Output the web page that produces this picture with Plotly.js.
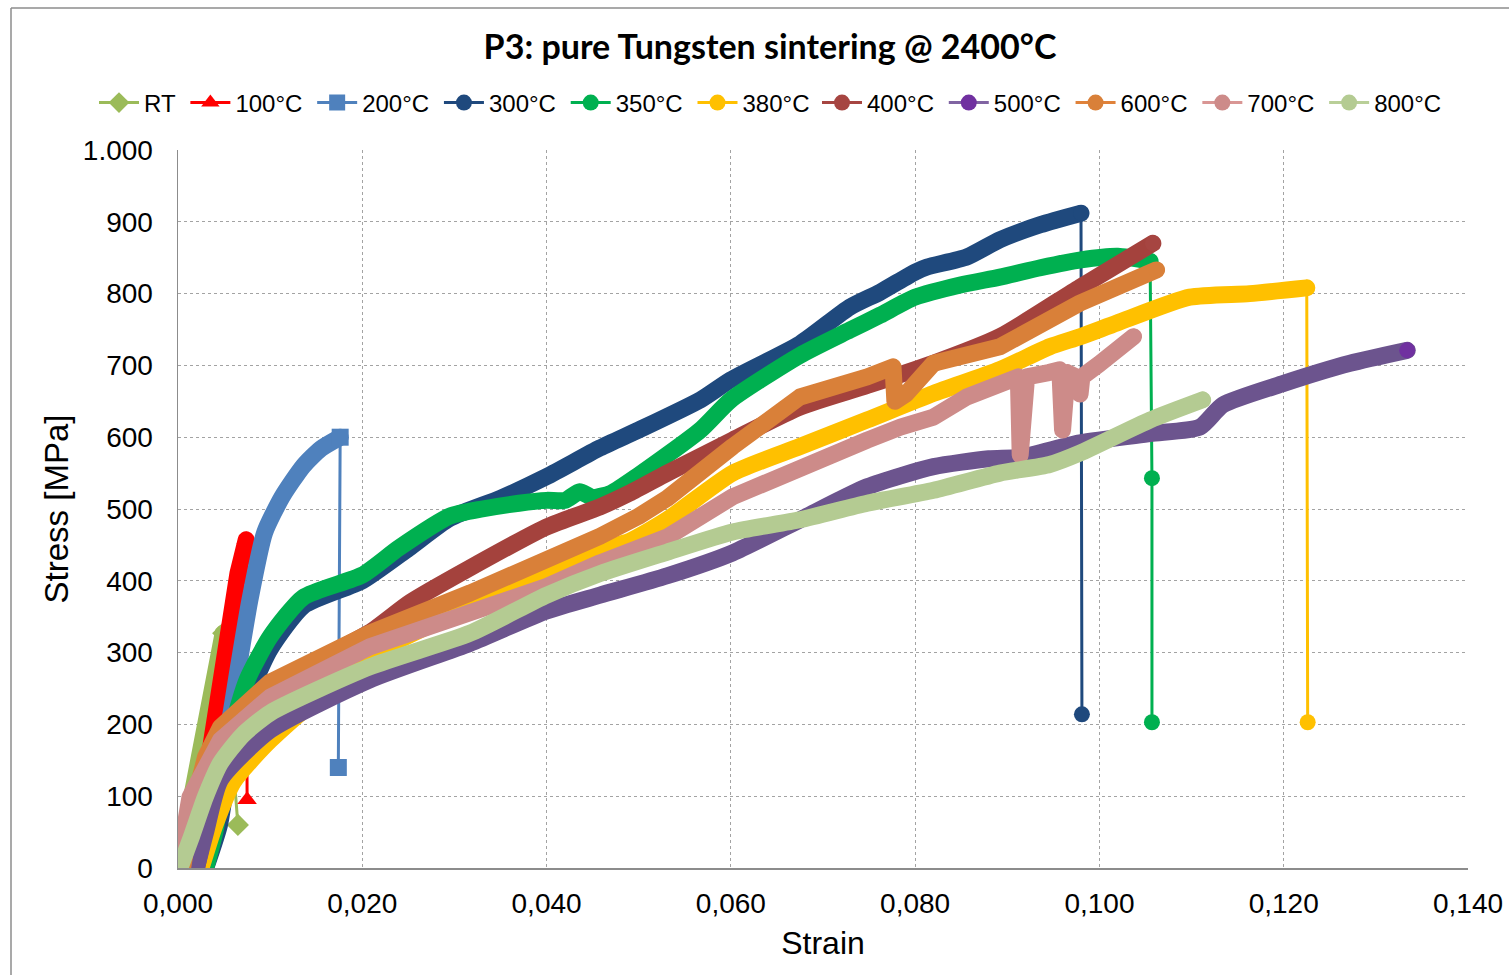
<!DOCTYPE html>
<html>
<head>
<meta charset="utf-8">
<script src="https://cdn.plot.ly/plotly-3.0.1.min.js"></script>
<style>
  html, body { margin: 0; padding: 0; background: #fff; }
  #chart { width: 1509px; height: 975px; }
  .scatterlayer .js-line { stroke-linejoin: round; stroke-linecap: round; }
</style>
</head>
<body>
<div id="chart"></div>
<script>
// ---------- data (strain [-], stress [MPa]) ----------
const seriesNames = ["RT", "100°C", "200°C", "300°C", "350°C", "380°C", "400°C", "500°C", "600°C", "700°C", "800°C"];

const strainRT = [0.0000, 0.0010, 0.0021, 0.0030, 0.0040, 0.0046, 0.0049];
const stressRT = [0, 65, 141, 200, 265, 304, 327];
const dropStrainRT = [0.0049, 0.0065];
const dropStressRT = [327, 60];

const strain100 = [0.0015, 0.0025, 0.0037, 0.0053, 0.0065, 0.0074];
const stress100 = [0, 80, 188, 327, 410, 457];
const dropStrain100 = [0.0074, 0.0075];
const dropStress100 = [457, 95];

const strain200 = [0.0000, 0.0015, 0.0030, 0.0045, 0.0054, 0.0065, 0.0078, 0.0094, 0.0113, 0.0136, 0.0155, 0.0176];
const stress200 = [0, 20, 75, 150, 190, 275, 373, 467, 517, 560, 584, 600];
const dropStrain200 = [0.0176, 0.0174];
const dropStress200 = [600, 140];

const strain300 = [0.0030, 0.0045, 0.0055, 0.0065, 0.0080, 0.0100, 0.0136, 0.0200, 0.0250, 0.0295, 0.0350, 0.0400, 0.0458, 0.0500, 0.0567, 0.0600, 0.0675, 0.0729, 0.0762, 0.0800, 0.0813, 0.0856, 0.0892, 0.0936, 0.0980];
const stress300 = [0, 60, 140, 200, 250, 305, 365, 400, 445, 487, 515, 545, 585, 610, 652, 680, 730, 781, 802, 830, 837, 851, 875, 896, 912];
const dropStrain300 = [0.0980, 0.0981];
const dropStress300 = [912, 214];

const strain350 = [0.0030, 0.0040, 0.0050, 0.0060, 0.0075, 0.0100, 0.0136, 0.0200, 0.0240, 0.0295, 0.0330, 0.0370, 0.0400, 0.0420, 0.0436, 0.0450, 0.0470, 0.0500, 0.0567, 0.0600, 0.0675, 0.0729, 0.0762, 0.0800, 0.0849, 0.0892, 0.0936, 0.0980, 0.1020, 0.1055];
const stress350 = [0, 50, 130, 200, 262, 322, 377, 408, 446, 490, 500, 508, 512, 512, 524, 516, 522, 547, 610, 652, 714, 749, 770, 795, 812, 823, 836, 847, 852, 845];
const dropStrain350 = [0.1055, 0.1057, 0.1057];
const dropStress350 = [845, 543, 203];

const strain380 = [0.0025, 0.0040, 0.0060, 0.0100, 0.0208, 0.0317, 0.0400, 0.0458, 0.0490, 0.0531, 0.0602, 0.0675, 0.0748, 0.0820, 0.0892, 0.0946, 0.0979, 0.1019, 0.1098, 0.1163, 0.1225];
const stress380 = [0, 60, 120, 178, 295, 364, 405, 443, 455, 485, 550, 587, 624, 661, 694, 726, 740, 759, 795, 800, 808];
const dropStrain380 = [0.1225, 0.1226];
const dropStress380 = [808, 203];

const strain400 = [0.0020, 0.0030, 0.0046, 0.0100, 0.0208, 0.0252, 0.0317, 0.0400, 0.0458, 0.0490, 0.0531, 0.0602, 0.0675, 0.0748, 0.0820, 0.0892, 0.0979, 0.1058];
const stress400 = [0, 60, 185, 252, 328, 370, 418, 475, 503, 522, 550, 596, 642, 672, 703, 740, 809, 870];
const endStrain400 = [0.1058];
const endStress400 = [870];

const strain500 = [0.0020, 0.0030, 0.0046, 0.0100, 0.0208, 0.0317, 0.0400, 0.0458, 0.0531, 0.0602, 0.0675, 0.0748, 0.0820, 0.0880, 0.0914, 0.0979, 0.1055, 0.1109, 0.1134, 0.1200, 0.1272, 0.1334];
const stress500 = [0, 50, 123, 192, 262, 313, 358, 380, 407, 439, 485, 531, 559, 570, 572, 592, 605, 614, 645, 675, 703, 721];
const endStrain500 = [0.1334];
const endStress500 = [721];

const strain600 = [0.0005, 0.0015, 0.0030, 0.0046, 0.0100, 0.0208, 0.0317, 0.0400, 0.0458, 0.0500, 0.0531, 0.0602, 0.0675, 0.0748, 0.0776, 0.0778, 0.0790, 0.0820, 0.0892, 0.0979, 0.1062];
const stress600 = [0, 80, 155, 196, 259, 327, 383, 428, 462, 490, 515, 587, 656, 684, 698, 650, 660, 703, 726, 787, 833];
const endStrain600 = [0.1062];
const endStress600 = [833];

const strain700 = [0.0000, 0.0013, 0.0046, 0.0100, 0.0208, 0.0317, 0.0400, 0.0458, 0.0531, 0.0602, 0.0675, 0.0748, 0.0784, 0.0820, 0.0856, 0.0890, 0.0912, 0.0914, 0.0921, 0.0945, 0.0957, 0.0960, 0.0965, 0.0978, 0.0979, 0.0981, 0.1000, 0.1020, 0.1037];
const stress700 = [0, 99, 178, 238, 308, 355, 392, 425, 461, 517, 559, 596, 614, 628, 656, 676, 684, 575, 684, 690, 694, 610, 690, 682, 660, 684, 702, 722, 740];
const endStrain700 = [0.1037];
const endStress700 = [740];

const strain800 = [0.0002, 0.0015, 0.0030, 0.0046, 0.0070, 0.0100, 0.0208, 0.0317, 0.0400, 0.0458, 0.0531, 0.0602, 0.0675, 0.0748, 0.0820, 0.0892, 0.0946, 0.0979, 0.1055, 0.1112];
const stress800 = [0, 45, 100, 146, 185, 216, 280, 327, 380, 410, 440, 468, 485, 508, 526, 550, 562, 578, 624, 652];
const endStrain800 = [0.1112];
const endStress800 = [652];

const xTickVals = [0, 0.02, 0.04, 0.06, 0.08, 0.10, 0.12, 0.14];
const xTickText = ["0,000", "0,020", "0,040", "0,060", "0,080", "0,100", "0,120", "0,140"];
const yTickVals = [0, 100, 200, 300, 400, 500, 600, 700, 800, 900, 1000];
const yTickText = ["0", "100", "200", "300", "400", "500", "600", "700", "800", "900", "1.000"];

// ---------- styling ----------
const series = [
  {name: seriesNames[0], x: strainRT, y: stressRT, dx: dropStrainRT, dy: dropStressRT, band: "#9BBB59", line: "#9BBB59", mk: "#9BBB59", sym: "diamond", shape: "linear"},
  {name: seriesNames[1], x: strain100, y: stress100, dx: dropStrain100, dy: dropStress100, band: "#FF0000", line: "#FF0000", mk: "#FF0000", sym: "triangle-up", shape: "linear"},
  {name: seriesNames[2], x: strain200, y: stress200, dx: dropStrain200, dy: dropStress200, band: "#4F81BD", line: "#4F81BD", mk: "#4F81BD", sym: "square", shape: "spline"},
  {name: seriesNames[3], x: strain300, y: stress300, dx: dropStrain300, dy: dropStress300, band: "#1F497D", line: "#1F497D", mk: "#1F497D", sym: "circle", shape: "spline"},
  {name: seriesNames[4], x: strain350, y: stress350, dx: dropStrain350, dy: dropStress350, band: "#00B050", line: "#00B050", mk: "#00B050", sym: "circle", shape: "spline"},
  {name: seriesNames[5], x: strain380, y: stress380, dx: dropStrain380, dy: dropStress380, band: "#FFC000", line: "#FFC000", mk: "#FFC000", sym: "circle", shape: "spline"},
  {name: seriesNames[6], x: strain400, y: stress400, dx: endStrain400, dy: endStress400, band: "#A4423D", line: "#A64541", mk: "#A64541", sym: "circle", shape: "spline"},
  {name: seriesNames[7], x: strain500, y: stress500, dx: endStrain500, dy: endStress500, band: "#6C548E", line: "#8064A2", mk: "#7030A0", sym: "circle", shape: "spline"},
  {name: seriesNames[8], x: strain600, y: stress600, dx: endStrain600, dy: endStress600, band: "#D98039", line: "#E0823A", mk: "#D98039", sym: "circle", shape: "linear"},
  {name: seriesNames[9], x: strain700, y: stress700, dx: endStrain700, dy: endStress700, band: "#CD8B89", line: "#D99694", mk: "#CD8B89", sym: "circle", shape: "linear"},
  {name: seriesNames[10], x: strain800, y: stress800, dx: endStrain800, dy: endStress800, band: "#B4CB92", line: "#B9CF98", mk: "#B4CB92", sym: "circle", shape: "spline"}
];

const legendPad = "\u2009";
const traces = [];
series.forEach(function (s, i) {
  const leg = i < 6 ? "legend" : "legend2";
  traces.push({
    type: "scatter", mode: "lines", x: s.x, y: s.y, name: s.name,
    line: {color: s.band, width: 17, shape: s.shape, smoothing: 0.6}, showlegend: false, hoverinfo: "skip", legendgroup: s.name
  });
  traces.push({
    type: "scatter", mode: "lines+markers", x: s.dx, y: s.dy, name: s.name + legendPad,
    line: {color: s.line, width: 3},
    marker: {color: s.mk, size: s.sym === "circle" ? 16 : 17, symbol: s.sym, line: {width: 0}},
    showlegend: true, legendgroup: s.name, legend: leg
  });
});

const legendCommon = {
  orientation: "h", xref: "container", xanchor: "left",
  yref: "container", y: 1 - 103 / 975, yanchor: "middle",
  font: {size: 24, family: "Liberation Sans, Arial, sans-serif"}, itemwidth: 40,
  bgcolor: "rgba(0,0,0,0)", traceorder: "normal", itemclick: false
};

const frameColor = "#8C8C8C";
const layout = {
  width: 1509, height: 975,
  paper_bgcolor: "#ffffff", plot_bgcolor: "#ffffff",
  margin: {l: 178, r: 41, t: 150, b: 107, pad: 0},
  font: {family: "Liberation Sans, Arial, sans-serif", color: "#000000"},
  title: {
    text: "<b>P3: pure Tungsten sintering @ 2400°C</b>",
    font: {family: "Lato, Liberation Sans, sans-serif", size: 34, color: "#000000"},
    x: 770 / 1509, xanchor: "center", xref: "container",
    y: 1 - 47 / 975, yanchor: "middle", yref: "container"
  },
  showlegend: true,
  legend: Object.assign({}, legendCommon, {x: 94 / 1509}),
  legend2: Object.assign({}, legendCommon, {x: 817 / 1509}),
  xaxis: {
    range: [0, 0.14], tickmode: "array", tickvals: xTickVals, ticktext: xTickText,
    showgrid: true, gridcolor: "#A3A3A3", gridwidth: 1, griddash: "3px,3px",
    showline: true, linecolor: "#8C8C8C", linewidth: 1.5, zeroline: false,
    ticks: "", ticklabelstandoff: 10,
    tickfont: {size: 28}, automargin: false,
    title: {text: "Strain", font: {size: 32}, standoff: 13}
  },
  yaxis: {
    range: [0, 1000], tickmode: "array", tickvals: yTickVals, ticktext: yTickText,
    showgrid: true, gridcolor: "#A3A3A3", gridwidth: 1, griddash: "3px,3px",
    showline: true, linecolor: "#8C8C8C", linewidth: 1.5, zeroline: false,
    ticks: "", ticklabelstandoff: 18,
    tickfont: {size: 28}, automargin: false,
    title: {text: "Stress [MPa]", font: {size: 33}, standoff: 4}
  },
  shapes: [
    {type: "line", xref: "paper", yref: "paper", x0: (11 - 178) / 1290, x1: (11 - 178) / 1290, y0: (868 - 980) / 718, y1: (868 - 8) / 718, line: {color: frameColor, width: 1.5}},
    {type: "line", xref: "paper", yref: "paper", x0: (11 - 178) / 1290, x1: (1515 - 178) / 1290, y0: (868 - 8) / 718, y1: (868 - 8) / 718, line: {color: frameColor, width: 1.5}}
  ]
};

Plotly.newPlot("chart", traces, layout, {displayModeBar: false, staticPlot: true});
</script>
</body>
</html>
